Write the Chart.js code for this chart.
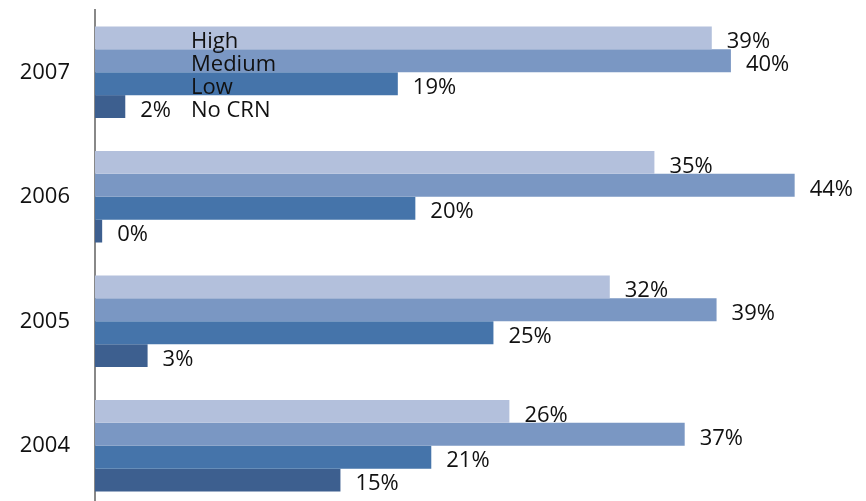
<!DOCTYPE html>
<html lang="en">
<head>
    <meta charset="UTF-8">
    <title>CRN by year</title>
    <script src="https://cdn.jsdelivr.net/npm/chart.js@4.4.0/dist/chart.umd.min.js"></script>
    <style>
        * { margin: 0; padding: 0; box-sizing: border-box; }
        body { background: #fff; overflow: hidden; }
        canvas { display: block; }
    </style>
</head>
<body>
    <canvas id="crnChart" width="866" height="510"></canvas>

    <script>
        // data
        const years = ['2007', '2006', '2005', '2004'];
        const seriesNames = ['High', 'Medium', 'Low', 'No CRN'];
        const high = [38.7, 35.1, 32.3, 26.0];
        const medium = [39.9, 43.9, 39.0, 37.0];
        const low = [19.0, 20.1, 25.0, 21.1];
        const noCrn = [1.9, 0.45, 3.3, 15.4];
        const colors = ['#b3c0dc', '#7a97c3', '#4574aa', '#3d5f8f'];

        const fontFamily = '"Open Sans", Lato, sans-serif';

        // value labels after each bar, series names on the first group
        const labelPlugin = {
            id: 'barLabels',
            afterDatasetsDraw(chart) {
                const ctx = chart.ctx;
                const xScale = chart.scales.x;
                ctx.save();
                ctx.font = '22px ' + fontFamily;
                ctx.fillStyle = '#111';
                ctx.textBaseline = 'middle';
                ctx.textAlign = 'left';
                chart.data.datasets.forEach((ds, i) => {
                    const meta = chart.getDatasetMeta(i);
                    meta.data.forEach((bar, j) => {
                        ctx.fillText(Math.round(ds.data[j]) + '%', bar.x + 15, bar.y + 4);
                    });
                    const first = meta.data[0];
                    ctx.fillText(ds.label, xScale.getPixelForValue(0) + 96, first.y + 4);
                });
                ctx.restore();
            }
        };

        const seriesData = [high, medium, low, noCrn];

        new Chart(document.getElementById('crnChart'), {
            type: 'bar',
            data: {
                labels: years,
                datasets: seriesNames.map((name, i) => ({
                    label: name,
                    data: seriesData[i],
                    backgroundColor: colors[i],
                    borderWidth: 0,
                    categoryPercentage: 0.735,
                    barPercentage: 1
                }))
            },
            options: {
                indexAxis: 'y',
                responsive: false,
                animation: false,
                layout: { padding: { top: 10, bottom: 2, right: 6, left: 0 } },
                plugins: {
                    legend: { display: false },
                    tooltip: { enabled: false }
                },
                scales: {
                    x: {
                        display: false,
                        min: 0,
                        max: 48
                    },
                    y: {
                        grid: { display: false, drawTicks: false },
                        border: { display: true, color: '#888', width: 2 },
                        ticks: {
                            color: '#111',
                            padding: 25,
                            font: { family: fontFamily, size: 22 }
                        },
                        afterFit(scale) {
                            scale.width = 95;
                            // tick padding shouldn't push the plot down
                            scale.paddingTop = 0;
                            scale.paddingBottom = 0;
                        }
                    }
                }
            },
            plugins: [labelPlugin]
        });
    </script>
</body>
</html>
